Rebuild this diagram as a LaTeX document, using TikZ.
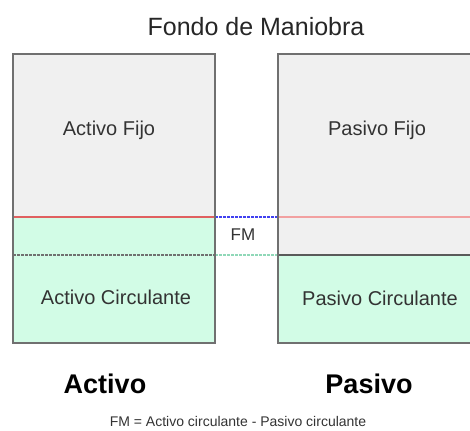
\documentclass[tikz,border=0pt]{standalone}
\usepackage{fontspec}
\setmainfont{Liberation Sans}
\begin{document}
\begin{tikzpicture}[x=1pt,y=1pt,
  boxline/.style={draw=boxgray,line width=1.3pt},
  lbl/.style={text=txtgray,inner sep=0pt,anchor=center},
  big/.style={font=\fontsize{27}{30}\selectfont\bfseries,inner sep=0pt,anchor=center}]
\definecolor{boxgray}{HTML}{707070}
\definecolor{fillgray}{HTML}{F0F0F0}
\definecolor{fillgreen}{HTML}{D2FCE6}
\definecolor{txtgray}{HTML}{333333}
\definecolor{redline}{HTML}{E06060}
\definecolor{redlight}{HTML}{F2A0A0}
\definecolor{blueline}{HTML}{4040F0}
\definecolor{greenline}{HTML}{90D8B8}
\useasboundingbox (0,0) rectangle (470,430);
% left box fills
\fill[fillgray] (13,213) rectangle (215,376);
\fill[fillgreen] (13,87) rectangle (215,213);
% right box fills
\fill[fillgray] (278,175) rectangle (472,376);
\fill[fillgreen] (278,87) rectangle (472,175);
% internal lines
\draw[redline,line width=1.3pt] (13,213) -- (215,213);
\draw[redlight,line width=1.3pt] (278,213) -- (472,213);
\draw[boxgray,line width=1.2pt,dash pattern=on 2.5pt off 1.5pt] (13,175) -- (215,175);
\draw[boxgray!80!black,line width=1.2pt] (278,175) -- (472,175);
\draw[blueline,line width=1.1pt,dash pattern=on 2.5pt off 1.5pt] (215,213) -- (278,213);
\draw[greenline,line width=1.1pt,dash pattern=on 2.5pt off 1.5pt] (215,175) -- (278,175);
% borders
\draw[boxline] (13,87) rectangle (215,376);
\draw[boxline] (472,376) -- (278,376) -- (278,87) -- (472,87);
% texts
\node[lbl,text=black!85,font=\fontsize{25}{28}\selectfont] (title) at (256,403) {Fondo de Maniobra};
\node[lbl,font=\fontsize{20}{24}\selectfont] (af) at (109,300) {Activo Fijo};
\node[lbl,font=\fontsize{20}{24}\selectfont] (ac) at (116,133) {Activo Circulante};
\node[lbl,font=\fontsize{20}{24}\selectfont] (pf) at (377,300) {Pasivo Fijo};
\node[lbl,font=\fontsize{20}{24}\selectfont] (pc) at (380,132) {Pasivo Circulante};
\node[lbl,font=\fontsize{17}{20}\selectfont] (fm) at (243,195) {FM};
\node[big] (act) at (105,46) {Activo};
\node[big] (pas) at (369,46) {Pasivo};
\node[lbl,font=\fontsize{14}{16}\selectfont] (cap) at (238,9) {FM = Activo circulante - Pasivo circulante};
\end{tikzpicture}
\end{document}
